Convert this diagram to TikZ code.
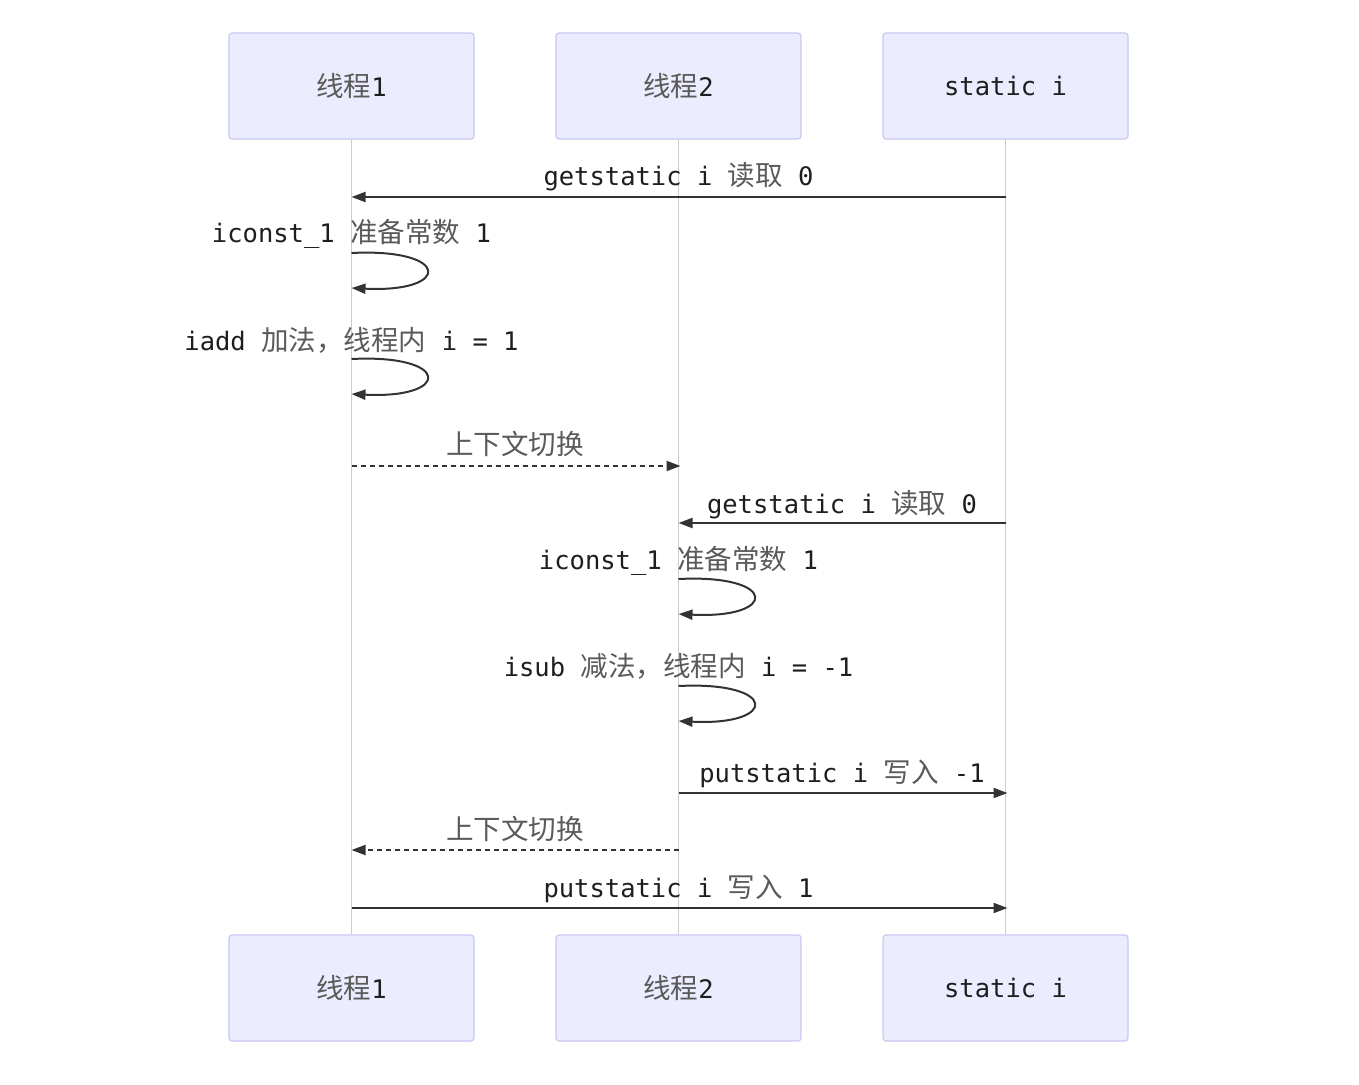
\documentclass[tikz,border=0pt]{standalone}
\usepackage{fontspec}
\setmonofont{DejaVu Sans Mono}
\newfontfamily\cjkfont[Scale=1.08]{Noto Sans CJK SC}
\usetikzlibrary{arrows.meta,calc}
\definecolor{boxfill}{HTML}{ECECFF}
\definecolor{boxline}{HTML}{C8C8F2}
\definecolor{lifecol}{HTML}{CCCCCC}
\definecolor{msgcol}{HTML}{333333}
\definecolor{txtcol}{HTML}{1E1E1E}
\definecolor{cjkcol}{HTML}{5A5A5A}
\newcommand\zh[1]{{\cjkfont\color{cjkcol}#1}}
\tikzset{
  actor/.style={draw=boxline, line width=1.2pt, fill=boxfill, rounded corners=3pt,
    minimum width=245pt, minimum height=106pt, inner sep=0pt,
    font=\ttfamily\fontsize{25.5}{30}\selectfont, text=txtcol},
  lifeline/.style={draw=lifecol, line width=1.5pt},
  msglabel/.style={font=\ttfamily\fontsize{25.5}{30}\selectfont, text=txtcol, inner sep=0pt, anchor=base},
  msg/.style={draw=msgcol, line width=2pt, -{Triangle[length=14pt,width=10pt]}},
  dmsg/.style={msg, dash pattern=on 5pt off 4pt},
}
\begin{document}
\begin{tikzpicture}[x=1pt,y=-1pt]
\useasboundingbox (0,0) rectangle (1359,1084);
% actors
\node[actor] (t1) at (351.5,86) {\zh{线程}1};
\node[actor] (t2) at (678.5,86) {\zh{线程}2};
\node[actor] (si) at (1005.5,86) {static i};
\node[actor] (b1) at (351.5,988) {\zh{线程}1};
\node[actor] (b2) at (678.5,988) {\zh{线程}2};
\node[actor] (bs) at (1005.5,988) {static i};
% lifelines
\draw[lifeline] (t1.south) -- (b1.north);
\draw[lifeline] (t2.south) -- (b2.north);
\draw[lifeline] (si.south) -- (bs.north);
% endpoints
\coordinate (m1s) at (si.south |- 0,197);
\coordinate (m1e) at (t1.south |- 0,197);
\coordinate (l1s) at (t1.south |- 0,253);
\coordinate (l1e) at (t1.south |- 0,288);
\coordinate (l2s) at (t1.south |- 0,359);
\coordinate (l2e) at (t1.south |- 0,394);
\coordinate (d1s) at (t1.south |- 0,466);
\coordinate (d1e) at ($(t2.south |- 0,466)+(2,0)$);
\coordinate (m2s) at (si.south |- 0,523);
\coordinate (m2e) at (t2.south |- 0,523);
\coordinate (l3s) at (t2.south |- 0,579);
\coordinate (l3e) at (t2.south |- 0,614);
\coordinate (l4s) at (t2.south |- 0,686);
\coordinate (l4e) at (t2.south |- 0,721);
\coordinate (m3s) at (t2.south |- 0,793);
\coordinate (m3e) at ($(si.south |- 0,793)+(2,0)$);
\coordinate (d2s) at (t2.south |- 0,850);
\coordinate (d2e) at (t1.south |- 0,850);
\coordinate (m4s) at (t1.south |- 0,908);
\coordinate (m4e) at ($(si.south |- 0,908)+(2,0)$);
% messages
\draw[msg] (m1s) -- (m1e);
\node[msglabel] (m1t) at (678.5,185) {getstatic i \zh{读取} 0};
\node[msglabel] (l1t) at (351.5,242) {iconst\_1 \zh{准备常数} 1};
\draw[msg] (l1s) .. controls ($(l1s)+(100,-5)$) and ($(l1e)+(100,5)$) .. (l1e);
\node[msglabel] (l2t) at (351.5,350) {iadd \zh{加法，线程内} i = 1};
\draw[msg] (l2s) .. controls ($(l2s)+(100,-5)$) and ($(l2e)+(100,5)$) .. (l2e);
\draw[dmsg] (d1s) -- (d1e);
\node[msglabel] (d1t) at (515,454) {\zh{上下文切换}};
\draw[msg] (m2s) -- (m2e);
\node[msglabel] (m2t) at (842,513) {getstatic i \zh{读取} 0};
\node[msglabel] (l3t) at (678.5,569) {iconst\_1 \zh{准备常数} 1};
\draw[msg] (l3s) .. controls ($(l3s)+(100,-5)$) and ($(l3e)+(100,5)$) .. (l3e);
\node[msglabel] (l4t) at (678.5,676) {isub \zh{减法，线程内} i = -1};
\draw[msg] (l4s) .. controls ($(l4s)+(100,-5)$) and ($(l4e)+(100,5)$) .. (l4e);
\draw[msg] (m3s) -- (m3e);
\node[msglabel] (m3t) at (842,782) {putstatic i \zh{写入} -1};
\draw[dmsg] (d2s) -- (d2e);
\node[msglabel] (d2t) at (515,839) {\zh{上下文切换}};
\draw[msg] (m4s) -- (m4e);
\node[msglabel] (m4t) at (678.5,897) {putstatic i \zh{写入} 1};
\end{tikzpicture}
\end{document}
